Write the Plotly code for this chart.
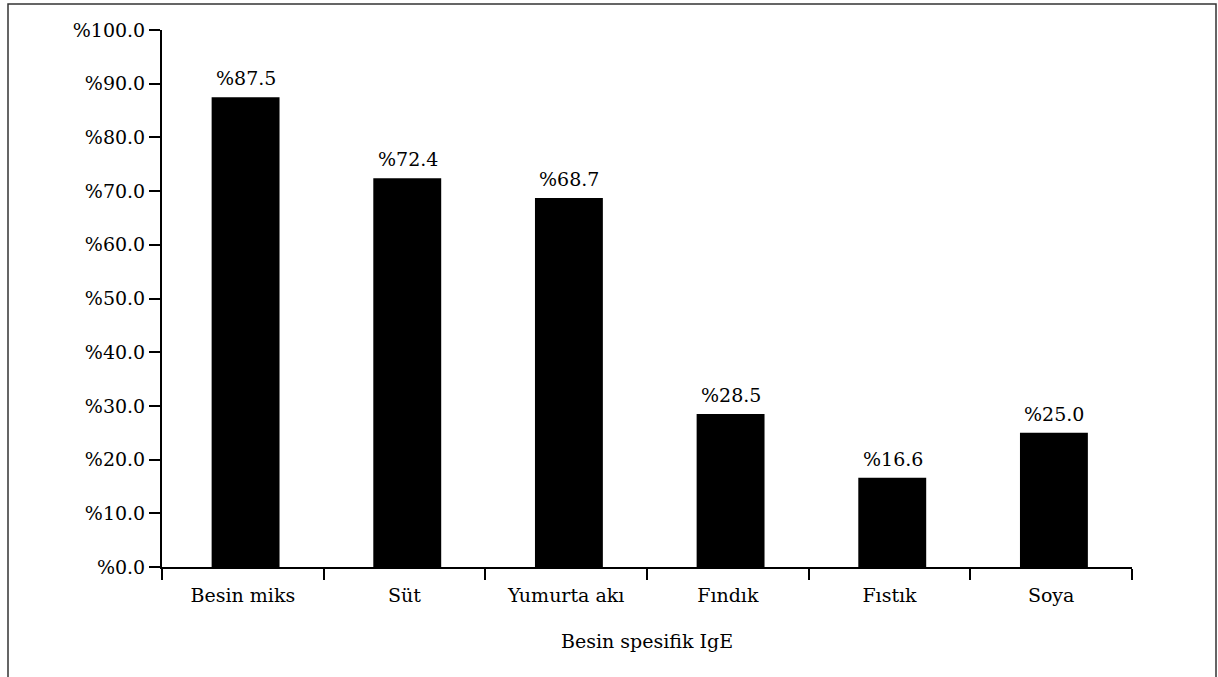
import plotly.graph_objects as go

categories = ["Besin miks", "Süt", "Yumurta akı", "Fındık", "Fıstık", "Soya"]
values = [87.5, 72.4, 68.7, 28.5, 16.6, 25.0]
y_ticks = [0, 10, 20, 30, 40, 50, 60, 70, 80, 90, 100]
y_ticktext = [f"%{v:.1f}" for v in y_ticks]
bar_labels = [f"%{v:.1f}" for v in values]
x_title = "Besin spesifik IgE"

FONT = "DejaVu Serif"
FS = 19
W, H = 1218, 677
L, R, T, B = 162, 86, 30, 110
pw, ph = W - L - R, H - T - B

fig = go.Figure(go.Bar(
    x=categories, y=values,
    marker=dict(color="black", line=dict(color="black", width=0)),
    width=0.42, offset=-0.193,
    cliponaxis=False,
))

for c, v, t in zip(categories, values, bar_labels):
    fig.add_annotation(
        x=c, y=v, text=t, showarrow=False,
        yanchor="bottom", yshift=6, xshift=3,
        font=dict(family=FONT, size=FS, color="black"),
    )

def px_x(p):
    return (p - L) / pw

def px_y(p):
    return (H - B - p) / ph

fig.update_layout(
    width=W, height=H,
    margin=dict(l=L, r=R, t=T, b=B),
    plot_bgcolor="white", paper_bgcolor="white",
    font=dict(family=FONT, size=FS, color="black"),
    showlegend=False,
    xaxis=dict(
        range=[-0.5, 5.5],
        showline=True, linecolor="black", linewidth=2,
        ticks="outside", ticklen=11, tickwidth=2, tickcolor="black",
        tickson="boundaries",
        ticklabelstandoff=10,
        showgrid=False, zeroline=False,
        tickfont=dict(family=FONT, size=FS, color="black"),
        title=dict(text=x_title, font=dict(family=FONT, size=FS, color="black"), standoff=30),
    ),
    yaxis=dict(
        range=[0, 100],
        tickvals=y_ticks, ticktext=y_ticktext,
        showline=True, linecolor="black", linewidth=2,
        ticks="outside", ticklen=11, tickwidth=2, tickcolor="black",
        showgrid=False, zeroline=False,
        tickfont=dict(family=FONT, size=FS, color="black"),
    ),
    shapes=[dict(
        type="rect", xref="paper", yref="paper",
        x0=px_x(8), x1=px_x(1216), y0=px_y(700), y1=px_y(4),
        line=dict(color="#333333", width=1.5), fillcolor="rgba(0,0,0,0)",
        layer="below",
    )],
)

fig.write_html(
    "out.html",
    config={"displayModeBar": False},
    post_script="document.body.style.margin='0';document.body.style.overflow='hidden';",
)
